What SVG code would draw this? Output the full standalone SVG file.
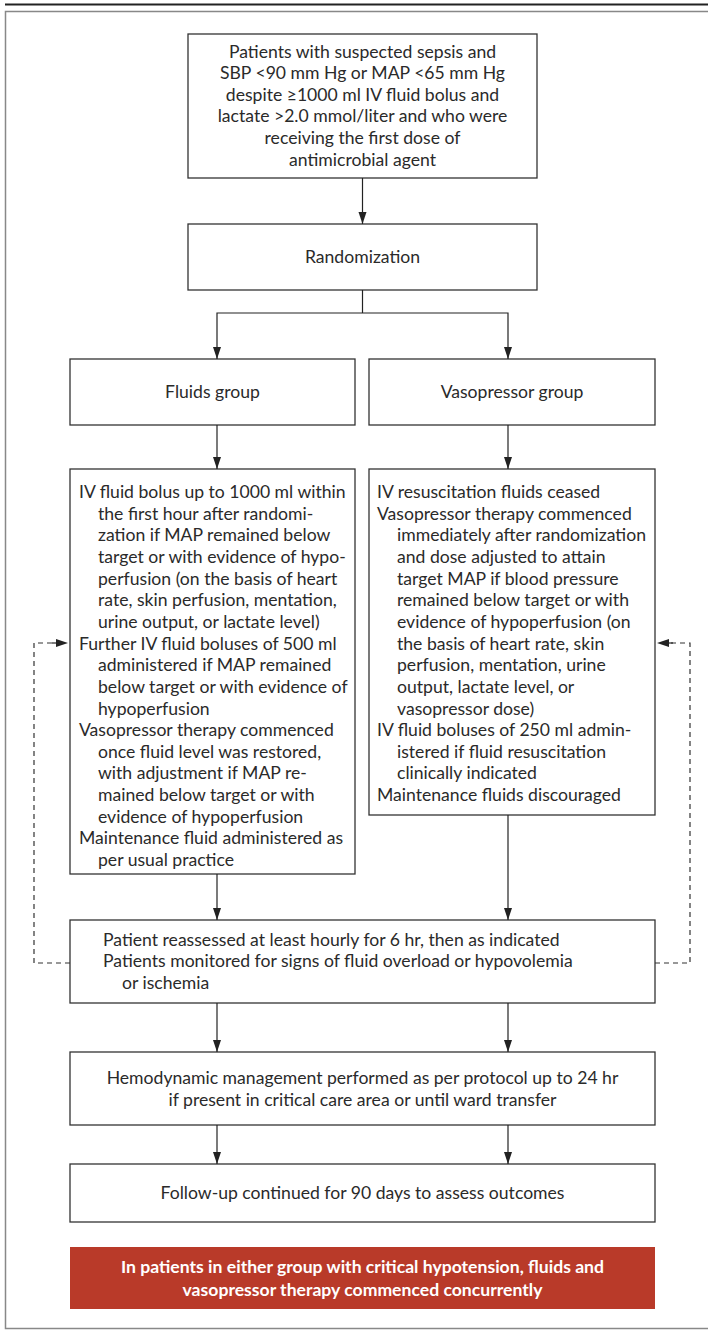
<svg xmlns="http://www.w3.org/2000/svg" width="708" height="1332" viewBox="0 0 708 1332">
<style>
.box{fill:#fff;stroke:#333;stroke-width:1.3}
.t{font-family:Lato,"Liberation Sans",sans-serif;font-size:17.6px;fill:#2a2a2a}
.c{text-anchor:middle}
.ln{fill:none;stroke:#222;stroke-width:1.2}
.dash{fill:none;stroke:#333;stroke-width:1.2;stroke-dasharray:5,4}
.w{font-family:Lato,"Liberation Sans",sans-serif;font-size:17.6px;font-weight:bold;fill:#fff;text-anchor:middle}
</style>
<rect x="0" y="0" width="708" height="1332" fill="#fff"/>
<line x1="5" y1="4.5" x2="708" y2="4.5" stroke="#222" stroke-width="2"/>
<rect x="5.5" y="11.5" width="720" height="1317" fill="none" stroke="#888" stroke-width="1.5"/>

<g id="n-patients">
<rect class="box" x="188" y="34" width="349" height="144"/>
<text class="t c" x="362.5"><tspan x="362.5" y="57.5">Patients with suspected sepsis and</tspan><tspan x="362.5" y="79.1">SBP &lt;90 mm Hg or MAP &lt;65 mm Hg</tspan><tspan x="362.5" y="100.7">despite ≥1000 ml IV fluid bolus and</tspan><tspan x="362.5" y="122.3">lactate &gt;2.0 mmol/liter and who were</tspan><tspan x="362.5" y="143.9">receiving the first dose of</tspan><tspan x="362.5" y="165.5">antimicrobial agent</tspan></text>
</g>

<g id="n-random">
<rect class="box" x="188" y="224" width="349" height="66"/>
<text class="t c" x="362.5" y="262.5">Randomization</text>
</g>

<g id="n-fluids">
<rect class="box" x="70" y="359" width="285" height="66"/>
<text class="t c" x="212.5" y="397.5">Fluids group</text>
</g>

<g id="n-vaso">
<rect class="box" x="369" y="359" width="286" height="66"/>
<text class="t c" x="512" y="397.5">Vasopressor group</text>
</g>

<g id="n-fluids-detail">
<rect class="box" x="70" y="469" width="285" height="405"/>
<text class="t"><tspan x="79" y="498">IV fluid bolus up to 1000 ml within</tspan><tspan x="98" y="519.6">the first hour after randomi-</tspan><tspan x="98" y="541.3">zation if MAP remained below</tspan><tspan x="98" y="562.9">target or with evidence of hypo-</tspan><tspan x="98" y="584.6">perfusion (on the basis of heart</tspan><tspan x="98" y="606.2">rate, skin perfusion, mentation,</tspan><tspan x="98" y="627.9">urine output, or lactate level)</tspan><tspan x="79" y="649.5">Further IV fluid boluses of 500 ml</tspan><tspan x="98" y="671.2">administered if MAP remained</tspan><tspan x="98" y="692.8">below target or with evidence of</tspan><tspan x="98" y="714.5">hypoperfusion</tspan><tspan x="79" y="736.1">Vasopressor therapy commenced</tspan><tspan x="98" y="757.8">once fluid level was restored,</tspan><tspan x="98" y="779.4">with adjustment if MAP re-</tspan><tspan x="98" y="801.1">mained below target or with</tspan><tspan x="98" y="822.7">evidence of hypoperfusion</tspan><tspan x="79" y="844.4">Maintenance fluid administered as</tspan><tspan x="98" y="866">per usual practice</tspan></text>
</g>

<g id="n-vaso-detail">
<rect class="box" x="369" y="469" width="286" height="346"/>
<text class="t"><tspan x="377" y="498">IV resuscitation fluids ceased</tspan><tspan x="377" y="519.6">Vasopressor therapy commenced</tspan><tspan x="397" y="541.3">immediately after randomization</tspan><tspan x="397" y="562.9">and dose adjusted to attain</tspan><tspan x="397" y="584.6">target MAP if blood pressure</tspan><tspan x="397" y="606.2">remained below target or with</tspan><tspan x="397" y="627.9">evidence of hypoperfusion (on</tspan><tspan x="397" y="649.5">the basis of heart rate, skin</tspan><tspan x="397" y="671.2">perfusion, mentation, urine</tspan><tspan x="397" y="692.8">output, lactate level, or</tspan><tspan x="397" y="714.5">vasopressor dose)</tspan><tspan x="377" y="736.1">IV fluid boluses of 250 ml admin-</tspan><tspan x="397" y="757.8">istered if fluid resuscitation</tspan><tspan x="397" y="779.4">clinically indicated</tspan><tspan x="377" y="801.1">Maintenance fluids discouraged</tspan></text>
</g>

<g id="n-reassess">
<rect class="box" x="70" y="920" width="585" height="83"/>
<text class="t"><tspan x="103" y="945.5">Patient reassessed at least hourly for 6 hr, then as indicated</tspan><tspan x="103" y="967">Patients monitored for signs of fluid overload or hypovolemia</tspan><tspan x="122" y="988.5">or ischemia</tspan></text>
</g>

<g id="n-hemo">
<rect class="box" x="70" y="1052" width="585" height="73"/>
<text class="t c"><tspan x="362.5" y="1084">Hemodynamic management performed as per protocol up to 24 hr</tspan><tspan x="362.5" y="1105.5">if present in critical care area or until ward transfer</tspan></text>
</g>

<g id="n-follow">
<rect class="box" x="70" y="1164" width="585" height="58"/>
<text class="t c" x="362.5" y="1198.5">Follow-up continued for 90 days to assess outcomes</text>
</g>

<g id="n-note">
<rect x="70" y="1247" width="585" height="62" fill="#b93a29"/>
<text class="w"><tspan x="362.5" y="1273">In patients in either group with critical hypotension, fluids and</tspan><tspan x="362.5" y="1296">vasopressor therapy commenced concurrently</tspan></text>
</g>

<g id="connectors">
<line class="ln" x1="362.5" y1="178" x2="362.5" y2="224"/>
<polyline class="ln" points="362.5,290 362.5,313"/>
<polyline class="ln" points="217,359 217,313 508,313 508,359"/>
<line class="ln" x1="217" y1="425" x2="217" y2="469"/>
<line class="ln" x1="508" y1="425" x2="508" y2="469"/>
<line class="ln" x1="217" y1="874" x2="217" y2="920"/>
<line class="ln" x1="508" y1="815" x2="508" y2="920"/>
<line class="ln" x1="217" y1="1003" x2="217" y2="1052"/>
<line class="ln" x1="508" y1="1003" x2="508" y2="1052"/>
<line class="ln" x1="217" y1="1125" x2="217" y2="1164"/>
<line class="ln" x1="508" y1="1125" x2="508" y2="1164"/>
<polyline class="dash" points="70,963 34,963 34,643 56,643"/>
<polyline class="dash" points="655,963 690,963 690,643 670,643"/>
<g fill="#222">
<path d="M358.5,212 L366.5,212 L362.5,224 z"/>
<path d="M213,347 L221,347 L217,359 z"/>
<path d="M504,347 L512,347 L508,359 z"/>
<path d="M213,457 L221,457 L217,469 z"/>
<path d="M504,457 L512,457 L508,469 z"/>
<path d="M213,908 L221,908 L217,920 z"/>
<path d="M504,908 L512,908 L508,920 z"/>
<path d="M213,1040 L221,1040 L217,1052 z"/>
<path d="M504,1040 L512,1040 L508,1052 z"/>
<path d="M213,1152 L221,1152 L217,1164 z"/>
<path d="M504,1152 L512,1152 L508,1164 z"/>
<path d="M56,639 L56,647 L68,643 z"/>
<line x1="52" y1="643" x2="57" y2="643" stroke="#222" stroke-width="1.2"/>
<path d="M669,639 L669,647 L657,643 z"/>
<line x1="668" y1="643" x2="673" y2="643" stroke="#222" stroke-width="1.2"/>
</g>
</g>
</svg>
